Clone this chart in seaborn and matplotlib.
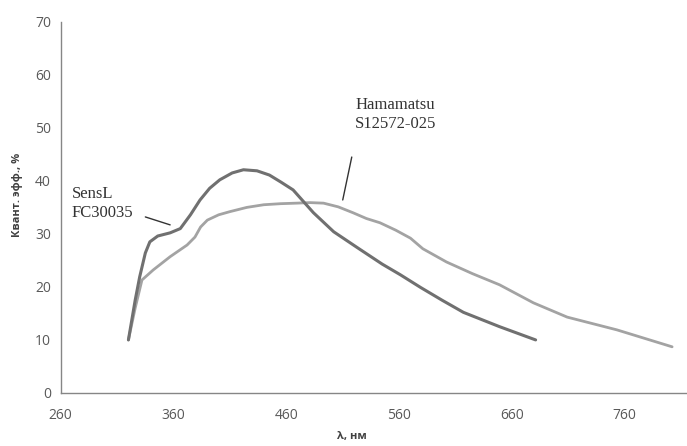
import matplotlib
matplotlib.use("Agg")
import matplotlib.pyplot as plt
import seaborn as sns
import pandas as pd

sensl_wl = [320, 326, 330, 335, 339, 346, 357, 366, 375, 383.5, 392, 401, 412, 422, 434, 445, 455, 466, 484, 502, 523, 545, 561, 579, 598, 617, 649, 681]
sensl_qe = [10, 17.5, 21.9, 26.4, 28.5, 29.6, 30.2, 31.0, 33.6, 36.4, 38.6, 40.2, 41.5, 42.1, 41.9, 41.1, 39.8, 38.3, 34, 30.4, 27.4, 24.3, 22.3, 19.9, 17.5, 15.2, 12.5, 10]

ham_wl = [320, 326, 332, 342, 357, 372, 379, 384, 390, 400, 410, 425, 440, 455, 469, 481, 493, 506, 519, 531, 543, 557, 570, 581, 602, 625, 649, 679, 709, 753, 802]
ham_qe = [10, 16, 21.3, 23.2, 25.7, 27.9, 29.4, 31.3, 32.6, 33.6, 34.2, 35.0, 35.5, 35.7, 35.8, 35.9, 35.8, 35.1, 34, 32.9, 32.1, 30.7, 29.2, 27.2, 24.7, 22.5, 20.4, 17, 14.3, 11.9, 8.7]

x_ticks = [260, 360, 460, 560, 660, 760]
y_ticks = [0, 10, 20, 30, 40, 50, 60, 70]
x_label = "λ, нм"
y_label = "Квант. эфф., %"
label_sensl = "SensL\nFC30035"
label_ham = "Hamamatsu\nS12572-025"

sns.set_style("white")
plt.rcParams['font.family'] = ['Open Sans', 'DejaVu Sans']

fig = plt.figure(figsize=(6.87, 4.46), dpi=100)
ax = fig.add_axes([0.0884, 0.119, 0.9116, 0.832])

df_s = pd.DataFrame({"wl": sensl_wl, "qe": sensl_qe})
df_h = pd.DataFrame({"wl": ham_wl, "qe": ham_qe})
sns.lineplot(data=df_h, x="wl", y="qe", ax=ax, color="#a3a3a3", linewidth=2.0, sort=False)
sns.lineplot(data=df_s, x="wl", y="qe", ax=ax, color="#707070", linewidth=2.2, sort=False)

ax.set_xlim(260, 815.2)
ax.set_ylim(0, 70)
ax.set_xticks(x_ticks)
ax.set_yticks(y_ticks)
ax.tick_params(axis="both", labelsize=10, colors="#868686", labelcolor="#595959", length=3, width=0.8)
ax.tick_params(axis="x", direction="inout", length=5, pad=8)
ax.tick_params(axis="y", direction="out", pad=4)
for s in ["top", "right"]:
    ax.spines[s].set_visible(False)
for s in ["left", "bottom"]:
    ax.spines[s].set_color("#868686")
    ax.spines[s].set_linewidth(1.0)

ax.set_xlabel(x_label, fontsize=8, fontweight="bold", color="#404040")
ax.set_ylabel(y_label, fontsize=8, fontweight="bold", color="#404040")
ax.xaxis.set_label_coords(0.465, -0.102)
ax.yaxis.set_label_coords(-0.06, 0.534)

serif = ["Liberation Serif", "DejaVu Serif"]
ax.text(270, 35.8, label_sensl, fontsize=12, family=serif, color="#333333", va="center", ha="left", linespacing=1.25)
ax.plot([335, 357], [33.2, 31.7], color="#333333", linewidth=1.0)
ax.text(521, 52.5, label_ham, fontsize=12, family=serif, color="#333333", va="center", ha="left", linespacing=1.25)
ax.plot([518, 510], [44.5, 36.4], color="#333333", linewidth=1.0)

fig.savefig("out.png", dpi=100)
